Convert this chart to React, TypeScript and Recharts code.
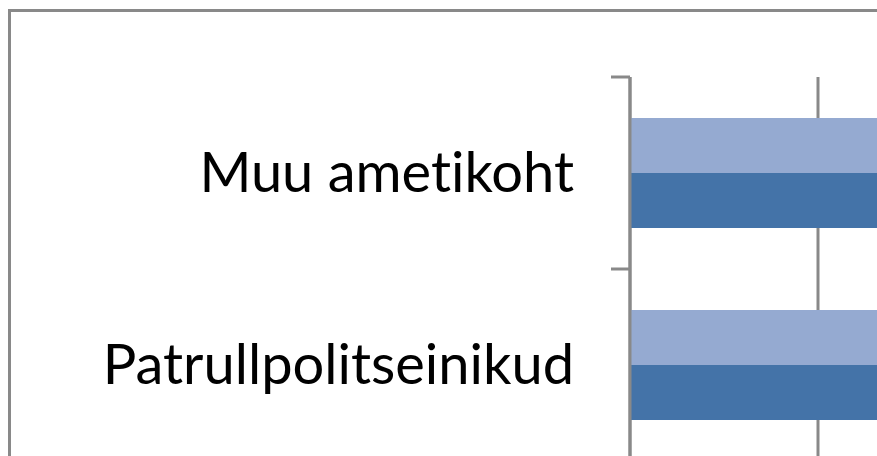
import React from "react";
import { BarChart, Bar, XAxis, YAxis, CartesianGrid } from "recharts";

// categories (top to bottom) and the two series; bars run past the visible crop
const categories = ["Muu ametikoht", "Patrullpolitseinikud"];
const seriesLight = [38, 41];
const seriesDark = [45, 48];
const xTicks = [0, 20, 40, 60];

const GRAY = "#898989";
const AXIS_X = 622;
const BAND = 192;

const data = categories.map((name, i) => ({
  name,
  light: seriesLight[i],
  dark: seriesDark[i]
}));

const CategoryTick = (props: any) => {
  const { y, payload } = props;
  return (
    <g>
      <line
        x1={AXIS_X - 19}
        x2={AXIS_X}
        y1={y - BAND / 2}
        y2={y - BAND / 2}
        stroke={GRAY}
        strokeWidth={3}
      />
      <text
        x={AXIS_X - 56}
        y={y + 19}
        textAnchor="end"
        fontFamily="Lato, 'Open Sans', sans-serif"
        fontSize={56}
        fill="#000"
        style={{ fontVariantLigatures: "none" }}
      >
        {payload.value}
      </text>
    </g>
  );
};

// value labels sit below the visible crop, so draw nothing for them
const EmptyTick = () => <g />;

export default function App() {
  return (
    <>
      <style>{`html, body { margin: 0; overflow: hidden; }`}</style>
      <div
        style={{
          position: "absolute",
          left: 8,
          top: 8,
          width: 869,
          height: 448,
          overflow: "hidden",
          background: "#fff"
        }}
      >
        <div
          style={{
            position: "absolute",
            left: 0,
            top: 1,
            width: 2000,
            height: 2000,
            border: `3px solid ${GRAY}`,
            boxSizing: "border-box"
          }}
        />
        <div style={{ position: "absolute", left: 0, top: 0 }}>
          <BarChart
            width={1200}
            height={560}
            data={data}
            layout="vertical"
            margin={{ top: 69, right: 14, bottom: 47, left: 0 }}
            barGap={0}
            barSize={55}
          >
            <CartesianGrid horizontal={false} stroke={GRAY} strokeWidth={3} />
            <XAxis
              type="number"
              domain={[0, 60]}
              ticks={xTicks}
              height={60}
              axisLine={false}
              tickLine={false}
              tick={<EmptyTick />}
            />
            <YAxis
              type="category"
              dataKey="name"
              width={622}
              interval={0}
              axisLine={{ stroke: GRAY, strokeWidth: 3 }}
              tickLine={false}
              tick={<CategoryTick />}
            />
            <Bar dataKey="light" fill="#95AAD1" isAnimationActive={false} />
            <Bar dataKey="dark" fill="#4473A8" isAnimationActive={false} />
          </BarChart>
        </div>
      </div>
    </>
  );
}
